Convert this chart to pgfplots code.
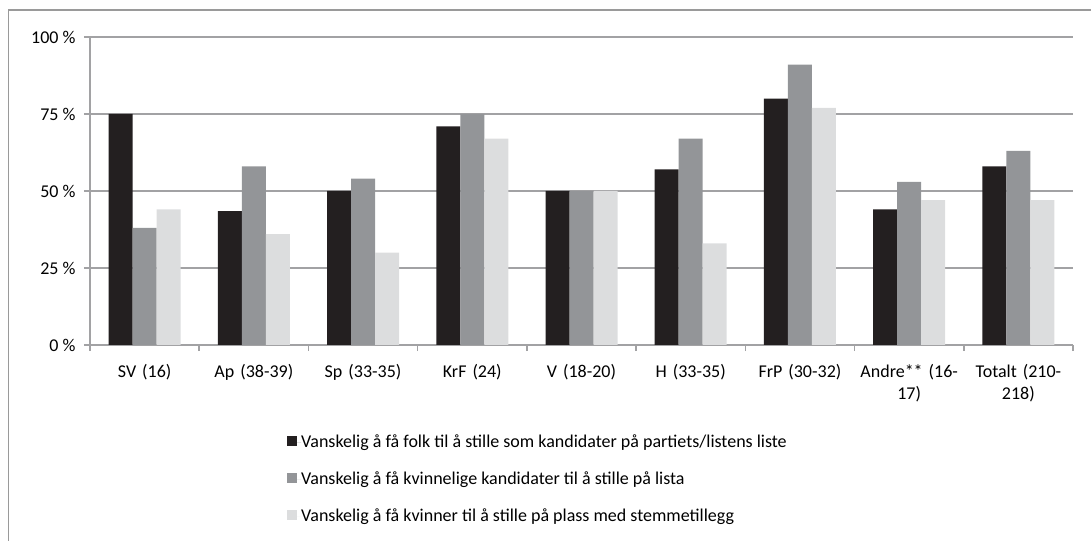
\documentclass[border=0pt]{standalone}
\usepackage{fontspec}
\setmainfont{Carlito}
\usepackage{pgfplots}
\pgfplotsset{compat=1.18}
\definecolor{s1}{HTML}{231F20}
\definecolor{s2}{HTML}{939598}
\definecolor{s3}{HTML}{DCDDDE}
\definecolor{gridcol}{HTML}{A2A2A4}
\definecolor{framecol}{HTML}{9A9A9A}
\begin{document}
\begin{tikzpicture}[font=\fontsize{18bp}{22bp}\selectfont]
\path[use as bounding box] (0bp,0bp) rectangle (1091bp,541bp);
\draw[framecol, line width=1.5bp] (8.5bp,0bp) -- (8.5bp,531bp) -- (1091bp,531bp);
\begin{axis}[
  at={(90bp,196bp)}, anchor=south west,
  scale only axis, width=983bp, height=308bp,
  ybar=0pt, bar width=24bp,
  ymin=0, ymax=100,
  ytick={0,25,50,75,100},
  yticklabels={0 \%,25 \%,50 \%,75 \%,100 \%},
  yticklabel style={xshift=-5bp},
  xmin=-0.5, xmax=8.5,
  xtick={-0.5,0.5,1.5,2.5,3.5,4.5,5.5,6.5,7.5,8.5},
  x tick label as interval,
  xticklabels={SV (16),Ap (38-39),Sp (33-35),KrF (24),V (18-20),H (33-35),FrP (30-32),Andre** (16-\\17),Totalt (210-\\218)},
  xticklabel style={align=center, text width=110bp, yshift=-10bp},
  tick align=outside,
  major tick length=6bp,
  axis x line*=bottom, axis y line*=left,
  axis line style={gridcol, line width=1.5bp, -},
  tick style={gridcol, line width=1.5bp},
  ymajorgrids, xmajorgrids=false, grid style={gridcol, line width=1.5bp},
  enlargelimits=false,
  legend style={at={(axis description cs:0.2004,-0.289)}, anchor=north west,
    draw=none, fill=none, row sep=20bp, inner sep=0pt,
    nodes={inner sep=0pt, text height=13bp, text depth=4bp, anchor=west}},
  legend cell align=left,
  legend image code/.code={\fill[#1] (0bp,-3bp) rectangle (10bp,7bp); \path (0bp,0bp) -- (14bp,0bp);},
]
\addplot[fill=s1, draw=none] coordinates {(0,75) (1,43.5) (2,50) (3,71) (4,50) (5,57) (6,80) (7,44) (8,58)};
\addplot[fill=s2, draw=none] coordinates {(0,38) (1,58) (2,54) (3,75) (4,50) (5,67) (6,91) (7,53) (8,63)};
\addplot[fill=s3, draw=none] coordinates {(0,44) (1,36) (2,30) (3,67) (4,50) (5,33) (6,77) (7,47) (8,47)};
\legend{Vanskelig å få folk til å stille som kandidater på partiets/listens liste,
Vanskelig å få kvinnelige kandidater til å stille på lista,
Vanskelig å få kvinner til å stille på plass med stemmetillegg}
\end{axis}
\end{tikzpicture}
\end{document}
